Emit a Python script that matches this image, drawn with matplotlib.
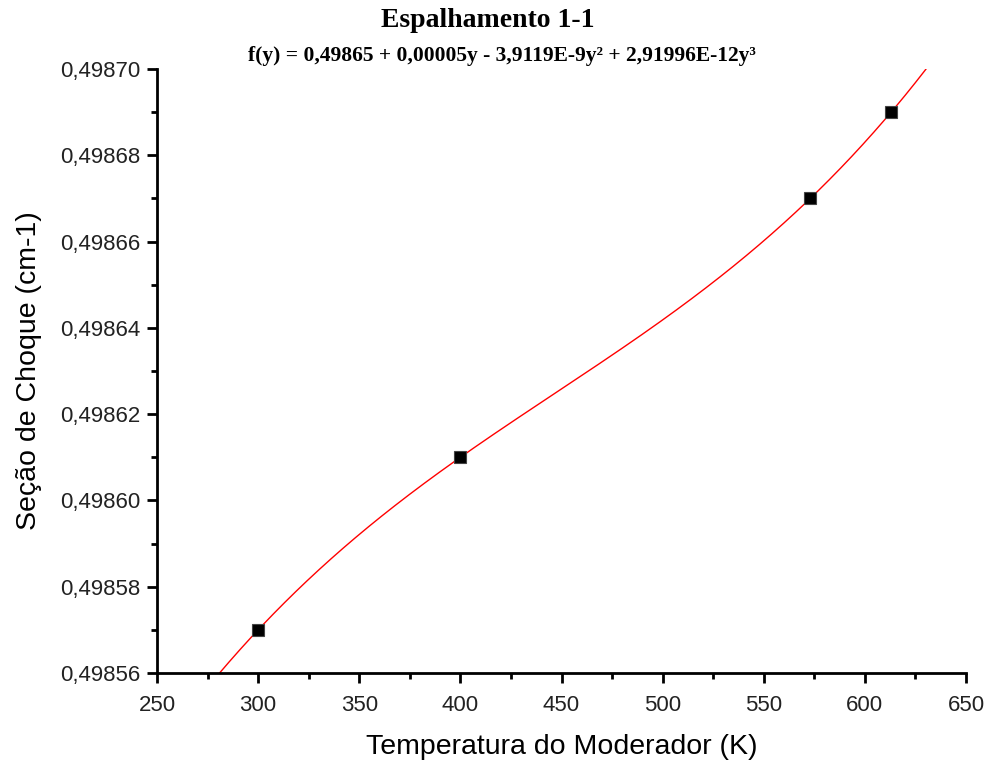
import numpy as np
import matplotlib
matplotlib.use("Agg")
from matplotlib import pyplot as plt
from matplotlib.ticker import MultipleLocator, FuncFormatter

# measured points
temp = [300, 400, 573, 613]
secao = [0.49857, 0.49861, 0.49867, 0.49869]

xlim = (250, 650)
ylim = (0.49856, 0.49870)

titulo = "Espalhamento 1-1"
eq = "f(y) = 0,49865 + 0,00005y - 3,9119E-9y\u00b2 + 2,91996E-12y\u00b3"

plt.rcParams["font.family"] = ["Liberation Sans", "DejaVu Sans"]

fig = plt.figure(figsize=(9.89, 7.62), dpi=100)
ax = fig.add_axes([157 / 989, 1 - 673 / 762, 809 / 989, 604 / 762])

# cubic fit, same as the one in the subtitle
coef = np.polyfit(temp, secao, 3)
xf = np.linspace(xlim[0], xlim[1], 800)
ax.plot(xf, np.polyval(coef, xf), color="red", lw=1.0)
ax.plot(temp, secao, ls="none", marker="s", ms=8.5, mfc="black",
        mec="#444444", mew=0.8, zorder=3)

ax.set_xlim(*xlim)
ax.set_ylim(*ylim)

for s in ["top", "right"]:
    ax.spines[s].set_visible(False)
for s in ["left", "bottom"]:
    ax.spines[s].set_linewidth(2)

ax.xaxis.set_major_locator(MultipleLocator(50))
ax.xaxis.set_minor_locator(MultipleLocator(25))
ax.yaxis.set_major_locator(MultipleLocator(0.00002))
ax.yaxis.set_minor_locator(MultipleLocator(0.00001))
ax.yaxis.set_major_formatter(FuncFormatter(lambda v, p: f"{v:.5f}".replace(".", ",")))

ax.tick_params(which="major", direction="out", length=7, width=2,
               labelsize=16, labelcolor="#222222", pad=5)
ax.tick_params(axis="x", which="major", pad=9)
ax.tick_params(which="minor", direction="out", length=4.5, width=2)

ax.set_xlabel("Temperatura do Moderador (K)", fontsize=20.5, labelpad=13)
ax.set_ylabel("Seção de Choque (cm-1)", fontsize=20.5, labelpad=13)

fig.text(0.493, 0.973, titulo, ha="center", va="center", fontsize=20,
         fontweight="bold", family="Liberation Serif")
fig.text(0.508, 0.927, eq, ha="center", va="center", fontsize=15.5,
         fontweight="bold", family="Liberation Serif")

fig.savefig("out.png", dpi=100)
